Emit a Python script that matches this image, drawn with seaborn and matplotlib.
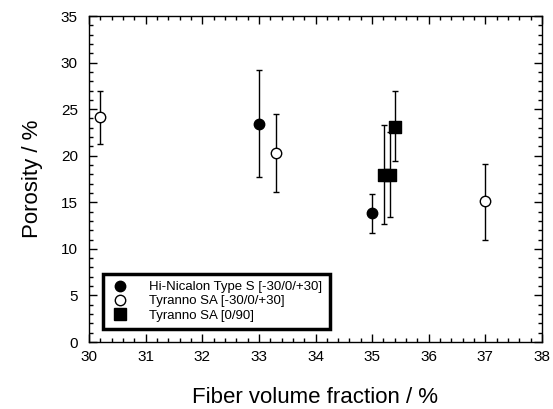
import matplotlib
matplotlib.use("Agg")
import matplotlib.pyplot as plt
import seaborn as sns
import pandas as pd
from matplotlib.ticker import MultipleLocator
from matplotlib.lines import Line2D

# Data
hn_x = [33.0, 35.0]
hn_y = [23.4, 13.9]
hn_lo = [17.7, 11.7]
hn_hi = [29.2, 15.9]

sa_x = [30.2, 33.3, 37.0]
sa_y = [24.2, 20.3, 15.1]
sa_lo = [21.3, 16.1, 11.0]
sa_hi = [27.0, 24.5, 19.1]

sq_x = [35.21, 35.32, 35.41]
sq_y = [17.9, 17.9, 23.1]
sq_lo = [12.7, 13.4, 19.45]
sq_hi = [23.3, 22.5, 27.0]

labels = ["Hi-Nicalon Type S [-30/0/+30]", "Tyranno SA [-30/0/+30]", "Tyranno SA [0/90]"]

sns.set_theme(style="ticks")
plt.rcParams['font.family'] = ['Liberation Sans', 'DejaVu Sans']
plt.rcParams['text.color'] = 'black'
plt.rcParams['axes.labelcolor'] = 'black'
plt.rcParams['xtick.color'] = 'black'
plt.rcParams['ytick.color'] = 'black'

fig = plt.figure(figsize=(5.53, 4.09), dpi=100)
ax = fig.add_axes([89/553, 67/409, (542-89)/553, (342-16)/409])

series = [
    (hn_x, hn_y, hn_lo, hn_hi, 'o', 'black', 7.5),
    (sa_x, sa_y, sa_lo, sa_hi, 'o', 'white', 7.5),
    (sq_x, sq_y, sq_lo, sq_hi, 's', 'black', 9),
]
for (x, y, lo, hi, m, fc, ms) in series:
    yerr = [[yy - l for yy, l in zip(y, lo)], [h - yy for yy, h in zip(y, hi)]]
    ax.errorbar(x, y, yerr=yerr, fmt='none', ecolor='black', elinewidth=1.0,
                capsize=2, capthick=1.0, zorder=2)
    df = pd.DataFrame({'x': x, 'y': y})
    sns.scatterplot(data=df, x='x', y='y', marker=m, s=ms**2, color=fc,
                    edgecolor='black', linewidth=1.0, ax=ax, zorder=3, legend=False)

ax.set_xlim(30, 38)
ax.set_ylim(0, 35)
ax.xaxis.set_major_locator(MultipleLocator(1))
ax.xaxis.set_minor_locator(MultipleLocator(0.2))
ax.yaxis.set_major_locator(MultipleLocator(5))
ax.yaxis.set_minor_locator(MultipleLocator(1))
ax.tick_params(which='both', direction='in', top=True, right=True, colors='black',
               labelsize=11, width=1.0, labelcolor='black')
ax.tick_params(which='major', length=6)
ax.tick_params(which='minor', length=3)
ax.tick_params(axis='x', which='major', pad=6)
ax.tick_params(axis='y', which='major', pad=8)
for s in ax.spines.values():
    s.set_linewidth(1.0)
    s.set_color('black')

ax.set_xlabel("Fiber volume fraction / %", fontsize=16, labelpad=16, color='black')
ax.set_ylabel("Porosity / %", fontsize=16, labelpad=13, color='black')

handles = [
    Line2D([], [], marker='o', linestyle='none', markerfacecolor='black', markeredgecolor='black', markersize=7.5),
    Line2D([], [], marker='o', linestyle='none', markerfacecolor='white', markeredgecolor='black', markersize=7.5),
    Line2D([], [], marker='s', linestyle='none', markerfacecolor='black', markeredgecolor='black', markersize=9),
]
leg = ax.legend(handles, labels, loc='lower left', bbox_to_anchor=(0.03, 0.04),
                fontsize=9.5, frameon=True, fancybox=False, handletextpad=1.5,
                labelspacing=0.15, borderpad=0.55, handlelength=1.5, borderaxespad=0,
                framealpha=1.0)
leg.get_frame().set_edgecolor('black')
leg.get_frame().set_linewidth(2.5)
for t in leg.get_texts():
    t.set_color('black')

fig.savefig("out.png", dpi=100)
